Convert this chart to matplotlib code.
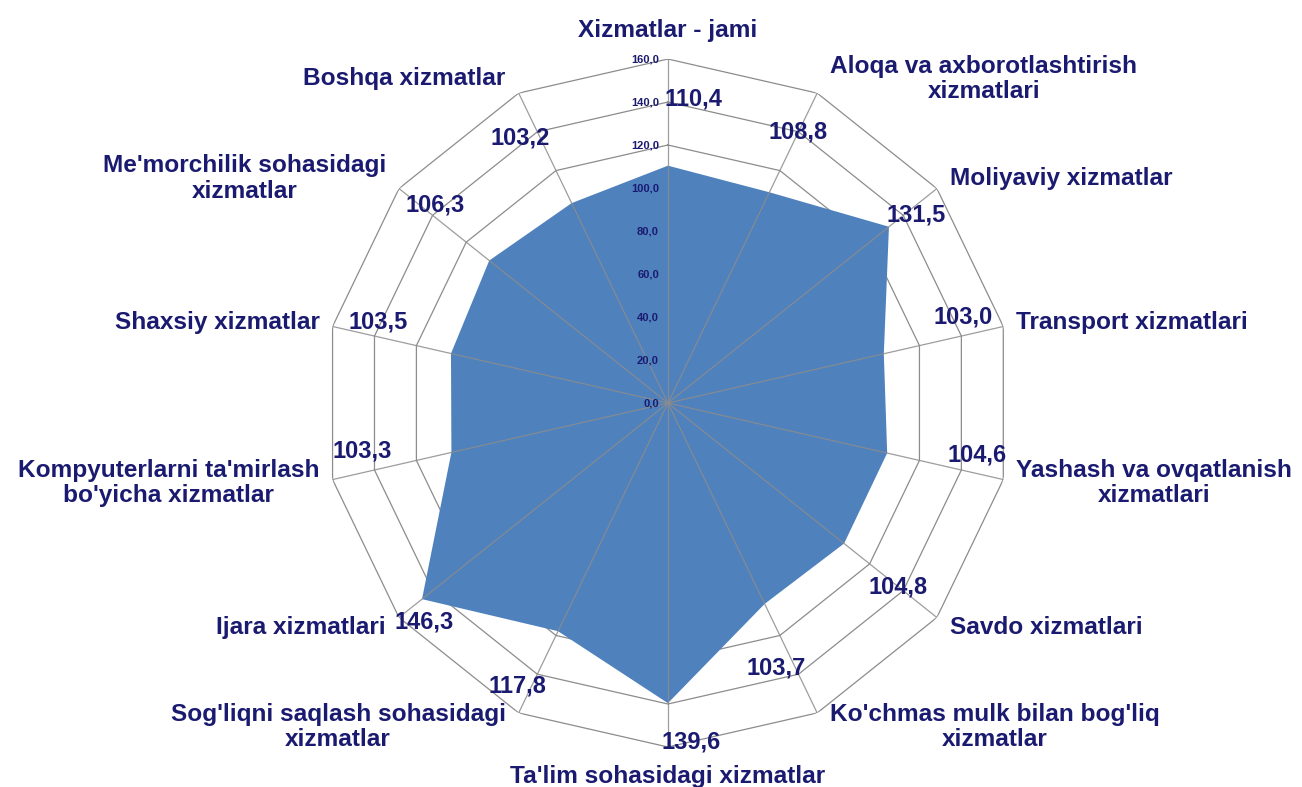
import numpy as np
import matplotlib.pyplot as plt

plt.rcParams['font.family'] = ['Liberation Sans', 'DejaVu Sans']

# kategoriyalar (soat yo'nalishi bo'yicha, tepadan)
kategoriyalar = [
    "Xizmatlar - jami",
    "Aloqa va axborotlashtirish\nxizmatlari",
    "Moliyaviy xizmatlar",
    "Transport xizmatlari",
    "Yashash va ovqatlanish\nxizmatlari",
    "Savdo xizmatlari",
    "Ko'chmas mulk bilan bog'liq\nxizmatlar",
    "Ta'lim sohasidagi xizmatlar",
    "Sog'liqni saqlash sohasidagi\nxizmatlar",
    "Ijara xizmatlari",
    "Kompyuterlarni ta'mirlash\nbo'yicha xizmatlar",
    "Shaxsiy xizmatlar",
    "Me'morchilik sohasidagi\nxizmatlar",
    "Boshqa xizmatlar",
]
qiymatlar = [110.4, 108.8, 131.5, 103.0, 104.6, 104.8, 103.7,
             139.6, 117.8, 146.3, 103.3, 103.5, 106.3, 103.2]
shkala = [0, 20, 40, 60, 80, 100, 120, 140, 160]

# qiymat yorliqlarining joyi (radius va burchak siljishi, gradus)
yorliq_r = [142, 140, 145, 143, 146, 137, 133, 158, 149, 152.5, 144, 140, 142, 141]
yorliq_dt = [4.7, 0, 1.4, -3.4, -3.3, 0, 3.5, -4, 2.4, -3.3, 4, 2.7, 1.8, -3.4]

rang_matn = "#1a1a70"
rang_fill = "#4f81bd"
rang_setka = "#8c8c8c"


def vergul(v):
    return f"{v:.1f}".replace(".", ",")


n = len(kategoriyalar)
burchak = np.linspace(0, 2 * np.pi, n, endpoint=False)
b_yopiq = np.append(burchak, burchak[0])

fig = plt.figure(figsize=(13.02, 7.87), dpi=100)
ax = fig.add_axes([0.2488, 0.0508, 0.5284, 0.8742], projection="polar")
ax.set_theta_zero_location("N")
ax.set_theta_direction(-1)
ax.set_ylim(0, 160)
ax.grid(False)
ax.spines["polar"].set_visible(False)
ax.set_xticks([])
ax.set_yticks([])
ax.patch.set_alpha(0)

# ko'pburchak setka
for t in shkala[1:]:
    ax.plot(b_yopiq, [t] * (n + 1), color=rang_setka, lw=0.9, zorder=1)

ax.fill(b_yopiq, np.append(qiymatlar, qiymatlar[0]), color=rang_fill, zorder=2, lw=0)

for b in burchak:
    ax.plot([b, b], [0, 160], color=rang_setka, lw=0.9, alpha=0.85, zorder=3)

# shkala yozuvlari
for t in shkala:
    ax.annotate(vergul(t), xy=(0, t), xytext=(-9, 0), textcoords="offset pixels",
                ha="right", va="center", fontsize=8, fontweight="bold",
                color=rang_matn, zorder=5)

# qiymat yorliqlari
for i, v in enumerate(qiymatlar):
    ax.text(burchak[i] + np.deg2rad(yorliq_dt[i]), yorliq_r[i], vergul(v),
            ha="center", va="center", fontsize=17, fontweight="bold",
            color=rang_matn, zorder=6, clip_on=False)

# kategoriya nomlari
for i, nom in enumerate(kategoriyalar):
    s, c = np.sin(burchak[i]), np.cos(burchak[i])
    if abs(s) < 0.1:
        ha = "center"
        dx, dy = 0, 29 * np.sign(c)
    else:
        ha = "left" if s > 0 else "right"
        dx, dy = 13 * np.sign(s), 16 * c
    ax.annotate(nom, xy=(burchak[i], 160), xytext=(dx, dy), textcoords="offset pixels",
                ha=ha, va="center", multialignment="center", linespacing=1.12,
                fontsize=17.6, fontweight="bold", color=rang_matn,
                annotation_clip=False, zorder=6)

fig.savefig("out.png", dpi=100)
